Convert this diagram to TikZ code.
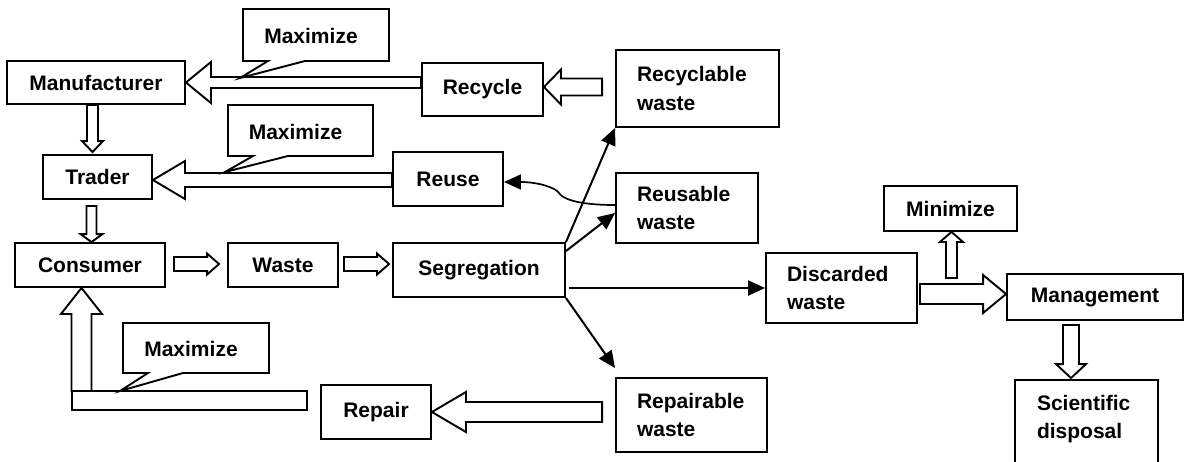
\documentclass[tikz,border=0pt]{standalone}
\usepackage{fontspec}
\setmainfont{Liberation Sans}
\usetikzlibrary{arrows.meta,calc}

\newcommand\boxfont{\fontsize{21}{28.5}\selectfont\bfseries}

% hollow horizontal block arrow: tail (x only), tip, half shaft, half head, head length
\newcommand\hblock[5]{%
  \draw[blockarrow] let \p1=(#1), \p2=(#2), \n1={sign(\x2-\x1)} in
    (\x1,{\y2+#3}) -- ({\x2-(\n1)*#5},{\y2+#3}) -- ({\x2-(\n1)*#5},{\y2+#4}) -- (\p2)
    -- ({\x2-(\n1)*#5},{\y2-#4}) -- ({\x2-(\n1)*#5},{\y2-#3}) -- (\x1,{\y2-#3}) -- cycle;}
% hollow vertical block arrow: tail (y only), tip, half shaft, half head, head length
\newcommand\vblock[5]{%
  \draw[blockarrow] let \p1=(#1), \p2=(#2), \n1={sign(\y2-\y1)} in
    ({\x2+#3},\y1) -- ({\x2+#3},{\y2-(\n1)*#5}) -- ({\x2+#4},{\y2-(\n1)*#5}) -- (\p2)
    -- ({\x2-#4},{\y2-(\n1)*#5}) -- ({\x2-#3},{\y2-(\n1)*#5}) -- ({\x2-#3},\y1) -- cycle;}
% speech-bubble label: name, left, top, right, bottom, pointer base 1, base 2, tip x, tip y
\newcommand\maxcallout[9]{%
  \draw[frame, fill=white] (#2,-#3) -- (#4,-#3) -- (#4,-#5) -- (#7,-#5)
    -- (#8,-#9) -- (#6,-#5) -- (#2,-#5) -- cycle;
  \node[font=\boxfont, inner sep=0pt] (#1) at ({(#2+#4)/2-5},{-(#3+#5)/2-1}) {Maximize};}

\tikzset{
  frame/.style={draw, line width=1.9pt, line join=miter},
  box/.style={frame, inner sep=0pt, font=\boxfont, align=center},
  wbox/.style={frame, inner xsep=21pt, inner ysep=0pt, font=\boxfont, align=left},
  blockarrow/.style={frame, fill=white},
  link/.style={line width=2pt, -{Triangle[length=17pt,width=15pt]}},
}

\begin{document}
\begin{tikzpicture}[x=1pt,y=1pt]
\useasboundingbox (0,0) rectangle (1184,-461);
\fill[white] (0,0) rectangle (1184,-461);
\clip (0,0) rectangle (1184,-461);

% boxes
\node[box, minimum width=178pt, minimum height=43pt] (manu) at (96,-82.5) {Manufacturer};
\node[box, minimum width=121pt, minimum height=53pt] (recycle) at (482.5,-89.5) {Recycle};
\node[wbox, text width=121pt, minimum height=77pt] (recw) at (697.5,-88.5) {Recyclable\\waste};
\node[box, minimum width=109pt, minimum height=44pt] (trader) at (97.5,-177) {Trader};
\node[box, minimum width=110pt, minimum height=54pt] (reuse) at (448,-179) {Reuse};
\node[wbox, text width=100pt, minimum height=70pt] (reusw) at (687,-208) {Reusable\\waste};
\node[box, minimum width=150pt, minimum height=44pt] (consumer) at (90,-265) {Consumer};
\node[box, minimum width=110pt, minimum height=44pt] (waste) at (283,-265) {Waste};
\node[box, minimum width=172pt, minimum height=54pt] (seg) at (479,-270) {Segregation};
\node[wbox, text width=109pt, minimum height=70pt] (disc) at (841.5,-288) {Discarded\\waste};
\node[box, minimum width=133pt, minimum height=45pt] (mini) at (950.5,-208.5) {Minimize};
\node[box, minimum width=176pt, minimum height=46pt] (mgmt) at (1095,-297) {Management};
\node[wbox, draw=none, text width=99pt, minimum height=76pt] (sci) at (1086.5,-419) {Scientific\\disposal};
\draw[frame] (sci.north west) rectangle ([yshift=-30pt]sci.south east);
\node[wbox, text width=109pt, minimum height=74pt] (repw) at (691.5,-415) {Repairable\\waste};
\node[box, minimum width=110pt, minimum height=54pt] (repair) at (376,-412) {Repair};

% hollow block arrows
\hblock{recycle.west}{manu.east}{5.5pt}{20.5pt}{25pt}
\hblock{[xshift=-13pt]recw.west}{[yshift=2.5pt]recycle.east}{8.5pt}{17.5pt}{17pt}
\hblock{reuse.west}{[yshift=-3pt]trader.east}{7pt}{19pt}{32pt}
\vblock{manu.south}{[xshift=-5pt,yshift=2pt]trader.north}{5.5pt}{10.5pt}{11pt}
\vblock{[yshift=-6pt]trader.south}{[xshift=1.5pt]consumer.north}{5pt}{11pt}{8pt}
\hblock{[xshift=8pt]consumer.east}{[xshift=-8pt,yshift=1pt]waste.west}{7pt}{10.5pt}{12pt}
\hblock{[xshift=5pt]waste.east}{$(seg.west |- waste.west)+(-3pt,1pt)$}{7pt}{10.5pt}{12pt}
\hblock{[xshift=2pt]disc.east}{[yshift=3pt]mgmt.west}{10pt}{19pt}{23pt}
\vblock{[yshift=10pt]disc.east}{[xshift=1pt]mini.south}{5.5pt}{11.5pt}{10pt}
\vblock{[yshift=-4pt]mgmt.south}{[xshift=-15.5pt,yshift=2pt]sci.north}{8pt}{15pt}{14pt}
\hblock{[xshift=-13pt]repw.west}{repair.east}{10pt}{20pt}{34pt}

% repair return path to the consumer
\coordinate (barL) at (72,-391);
\coordinate (barR) at (307,-410);
\draw[blockarrow] (barL) rectangle (barR);
\vblock{barL}{[xshift=-8.5pt]consumer.south}{10pt}{20.5pt}{26pt}

% segregation outputs
\draw[link] (seg.north east) -- (recw.south west);
\draw[link] ([yshift=-9pt]seg.north east) -- ([yshift=-5pt]reusw.west);
\draw[link] ($(seg.east |- disc.west)+(3pt,0)$) -- (disc.west);
\draw[link] (seg.south east) -- ([yshift=9pt]repw.north west);
\coordinate (bend) at (559,-193);
\draw[link, line width=1.7pt] ([yshift=3pt]reusw.west) .. controls +(-40pt,0pt) and +(3pt,-5pt) .. (bend)
  .. controls +(-3pt,5pt) and +(35pt,0pt) .. ([yshift=-3pt]reuse.east);

% speech bubbles
\maxcallout{max1}{243}{9}{389}{61}{268}{305}{240}{78}
\maxcallout{max2}{228}{105}{373}{156}{253}{288}{225}{172}
\maxcallout{max3}{123}{323}{269}{373}{148}{183}{120}{391}
\end{tikzpicture}
\end{document}
